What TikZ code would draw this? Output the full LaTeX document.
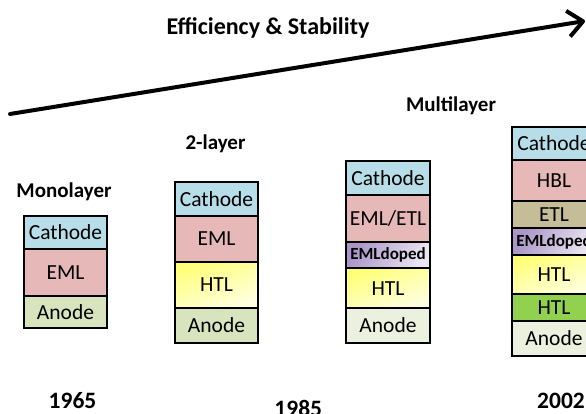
\documentclass[tikz,border=0pt]{standalone}
\usepackage{fontspec}
\setmainfont{Carlito}
\usetikzlibrary{arrows.meta}

\definecolor{cathodeblue}{RGB}{183,222,232}
\definecolor{emlpink}{RGB}{230,185,184}
\definecolor{anodegreen}{RGB}{215,228,189}
\definecolor{anodepale}{RGB}{235,241,222}
\definecolor{htlyellow}{RGB}{255,255,120}
\definecolor{htllight}{RGB}{255,255,225}
\definecolor{dopedpurple}{RGB}{170,150,200}
\definecolor{dopedlight}{RGB}{236,230,242}
\definecolor{etlkhaki}{RGB}{196,189,151}
\definecolor{htlgreen}{RGB}{146,208,80}

\tikzset{
  layer/.style={draw=black, line width=2pt, inner sep=0pt, text=black,
    font=\fontsize{21.5}{24}\selectfont},
  narrow/.style={layer, minimum width=83pt},
  wide/.style={layer, minimum width=84pt},
  cathode/.style={fill=cathodeblue},
  eml/.style={fill=emlpink},
  anode/.style={fill=anodegreen},
  anodepl/.style={fill=anodepale},
  htl/.style={top color=htlyellow, bottom color=htllight, shading angle=20},
  doped/.style={top color=dopedpurple, bottom color=dopedlight, shading angle=60,
    font=\fontsize{17}{20}\selectfont\bfseries},
  etl/.style={fill=etlkhaki},
  htlg/.style={fill=htlgreen},
  heading/.style={anchor=base, font=\fontsize{21}{24}\selectfont\bfseries},
  year/.style={anchor=base, font=\fontsize{23.5}{28}\selectfont\bfseries},
}

\begin{document}
\begin{tikzpicture}[x=1pt, y=-1pt]
\useasboundingbox (0,0) rectangle (586,414);
\clip (0,0) rectangle (586,414);

% trend arrow and its caption
\coordinate (arrowstart) at (10,114);
\coordinate (arrowend) at (585,21);
\draw[line width=4pt, line cap=round,
  -{Straight Barb[length=15pt, width=26pt, line join=round]}]
  (arrowstart) -- (arrowend);
\node[anchor=base, font=\fontsize{24}{28}\selectfont\bfseries] (title)
  at (268,35) {Efficiency \& Stability};

% device names
\node[heading] (mono) at (64,198) {Monolayer};
\node[heading] (two) at (215.5,150) {2-layer};
\node[heading] (multi) at (451,111.7) {Multilayer};

% monolayer device
\node[narrow, cathode, minimum height=33.3pt] (m1) at (65.5,232.35) {Cathode};
\node[narrow, eml, minimum height=46.7pt] (m2) at (65.5,272.35) {EML};
\node[narrow, anode, minimum height=32.3pt] (m3) at (65.5,311.85) {Anode};

% 2-layer device
\node[narrow, cathode, minimum height=33.4pt] (t1) at (216.5,199) {Cathode};
\node[narrow, eml, minimum height=46pt] (t2) at (216.5,238.7) {EML};
\node[narrow, htl, minimum height=46.6pt] (t3) at (216.5,285) {HTL};
\node[narrow, anode, minimum height=34.4pt] (t4) at (216.5,325.5) {Anode};

% multilayer device
\node[wide, cathode, minimum height=34.3pt] (u1) at (388,177.85) {Cathode};
\node[wide, eml, minimum height=46.7pt] (u2) at (388,218.35) {EML/ETL};
\node[wide, doped, minimum height=26.6pt] (u3) at (388,255) {EMLdoped};
\node[wide, htl, minimum height=40pt] (u4) at (388,288.3) {HTL};
\node[wide, anodepl, minimum height=34.4pt] (u5) at (388,325.5) {Anode};

% advanced multilayer device
\node[wide, cathode, minimum height=33.3pt] (v1) at (554,143.35) {Cathode};
\node[wide, eml, minimum height=40.7pt] (v2) at (554,180.35) {HBL};
\node[wide, etl, minimum height=27.6pt] (v3) at (554,214.5) {ETL};
\node[wide, doped, minimum height=26.7pt] (v4) at (554,241.65) {EMLdoped};
\node[wide, htl, minimum height=39.3pt] (v5) at (554,274.65) {HTL};
\node[wide, htlg, minimum height=26.7pt] (v6) at (554,307.65) {HTL};
\node[wide, anodepl, minimum height=35pt] (v7) at (554,338.5) {Anode};

% years
\node[year] (y1) at (72.5,408.3) {1965};
\node[year] (y2) at (298.3,416) {1985};
\node[year] (y3) at (561,408.3) {2002};
\end{tikzpicture}
\end{document}
